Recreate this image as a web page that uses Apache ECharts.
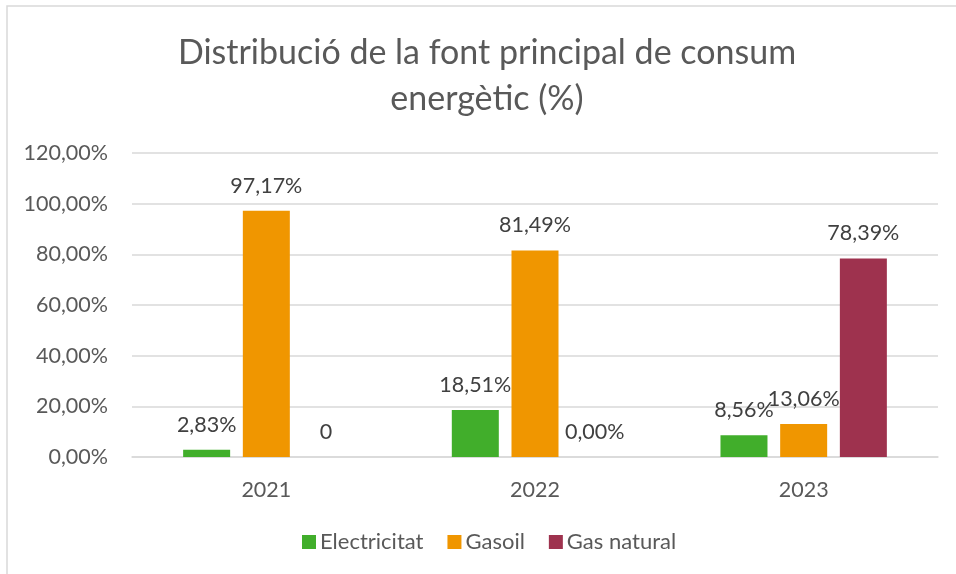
<!DOCTYPE html>
<html>
<head>
<meta charset="utf-8">
<script src="https://cdn.jsdelivr.net/npm/echarts@6/dist/echarts.min.js"></script>
<style>html,body{margin:0;padding:0;background:#fff;}#chart{width:956px;height:574px;}</style>
</head>
<body>
<div id="chart"></div>
<script>
const titleText = 'Distribució de la font principal de consum\nenergètic (%)';
const categories = ['2021', '2022', '2023'];
const seriesNames = ['Electricitat', 'Gasoil', 'Gas natural'];
const electricitat = [2.83, 18.51, 8.56];
const gasoil = [97.17, 81.49, 13.06];
const gasNatural = [0, 0, 78.39];
const gasNaturalLabels = ['0', '0,00%', '78,39%'];
const yTicks = [0, 20, 40, 60, 80, 100, 120];
const colors = ['#41AE2B', '#F09600', '#9E324E'];

const FONT = 'Lato';
function fmtPct(v) { return v.toFixed(2).replace('.', ',') + '%'; }

const chart = echarts.init(document.getElementById('chart'));
function mkSeries(name, data, color, labels) {
  return {
    name: name, type: 'bar', data: data,
    barWidth: 47, barGap: '27%',
    itemStyle: { color: color },
    label: {
      show: true, position: 'top', distance: 14,
      fontFamily: FONT, fontSize: 21.5, color: '#404040',
      formatter: p => labels ? labels[p.dataIndex] : fmtPct(p.value)
    }
  };
}
chart.setOption({
  animation: false,
  backgroundColor: '#fff',
  graphic: [{
    type: 'rect', shape: { x: 7, y: 6, width: 960, height: 580 },
    style: { fill: 'none', stroke: '#D9D9D9', lineWidth: 1.5 }, silent: true, z: -1
  }],
  title: {
    text: titleText, left: 482, top: 25, textAlign: 'center',
    textStyle: { fontFamily: FONT, fontSize: 34, fontWeight: 'normal', color: '#595959', lineHeight: 46 }
  },
  legend: {
    data: seriesNames, top: 526, left: 297,
    itemWidth: 14, itemHeight: 14, itemGap: 24, icon: 'rect',
    textStyle: { fontFamily: FONT, fontSize: 22, color: '#595959', padding: [0, 0, 0, -1] }
  },
  grid: { left: 132, right: 18, top: 153, bottom: 117, containLabel: false },
  xAxis: {
    type: 'category', data: categories,
    axisLine: { lineStyle: { color: '#D9D9D9', width: 1.5 } },
    axisTick: { show: false },
    axisLabel: { fontFamily: FONT, fontSize: 21.5, color: '#595959', margin: 22 }
  },
  yAxis: {
    type: 'value', min: yTicks[0], max: yTicks[yTicks.length - 1], interval: 20,
    axisLine: { show: false }, axisTick: { show: false },
    splitLine: { lineStyle: { color: '#D9D9D9', width: 1.5 } },
    axisLabel: { fontFamily: FONT, fontSize: 21.5, color: '#595959', margin: 24, formatter: v => fmtPct(v) }
  },
  series: [
    mkSeries(seriesNames[0], electricitat, colors[0]),
    mkSeries(seriesNames[1], gasoil, colors[1]),
    mkSeries(seriesNames[2], gasNatural, colors[2], gasNaturalLabels)
  ]
});
</script>
</body>
</html>
